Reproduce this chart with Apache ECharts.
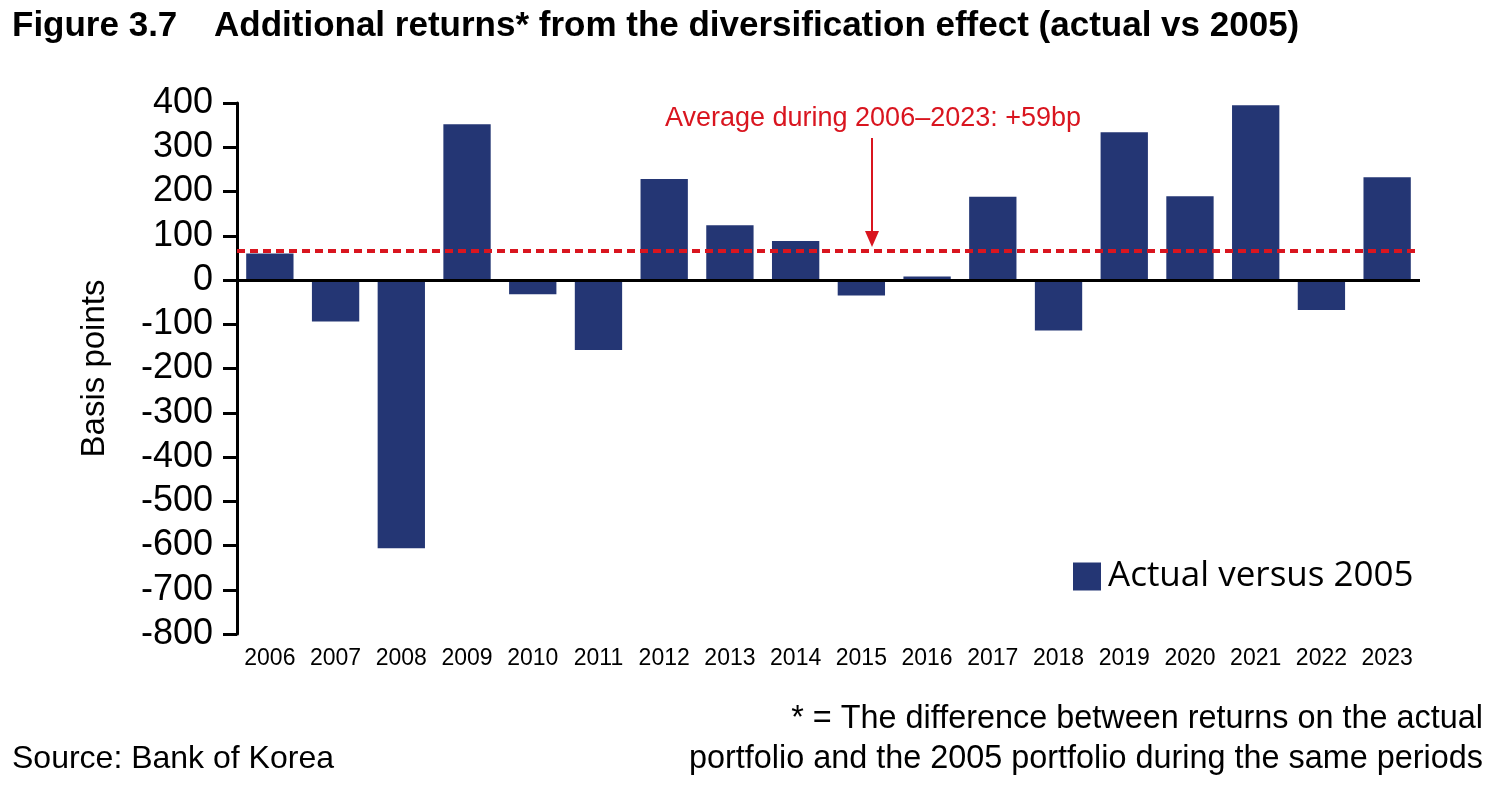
<!DOCTYPE html>
<html>
<head>
<meta charset="utf-8">
<script src="https://cdn.jsdelivr.net/npm/echarts@6/dist/echarts.min.js"></script>
<style>
html,body{margin:0;padding:0;background:#fff;}
#chart{width:1500px;height:810px;}
</style>
</head>
<body>
<div id="chart"></div>
<script>
const categories = ['2006','2007','2008','2009','2010','2011','2012','2013','2014','2015','2016','2017','2018','2019','2020','2021','2022','2023'];
const actualVs2005 = [60, -94, -606, 352, -32, -158, 228, 124, 88, -35, 8, 188, -114, 334, 189, 395, -68, 232];
const averageLevel = 67;
const yTicks = {min: -800, max: 400, interval: 100};
const seriesName = 'Actual versus 2005';
const titleLabel = 'Figure 3.7';
const titleText = 'Additional returns* from the diversification effect (actual vs 2005)';
const annotationText = 'Average during 2006\u20132023: +59bp';
const sourceText = 'Source: Bank of Korea';
const noteLines = ['* = The difference between returns on the actual', 'portfolio and the 2005 portfolio during the same periods'];

const RED = '#d9151f';
const NAVY = '#243674';
const FONT = '"Liberation Sans", Arial, Helvetica, sans-serif';

const chart = echarts.init(document.getElementById('chart'), null, {renderer: 'canvas'});
chart.setOption({
  backgroundColor: '#ffffff',
  animation: false,
  textStyle: {fontFamily: FONT},
  grid: {left: 237, right: 80, top: 103, bottom: 176, containLabel: false},
  legend: {
    data: [seriesName],
    left: 1068, top: 554,
    icon: 'rect', itemWidth: 28, itemHeight: 28,
    textStyle: {fontFamily: '"Open Sans", sans-serif', fontSize: 35, color: '#000', padding: [0, 0, 0, 2]}
  },
  xAxis: {
    type: 'category',
    data: categories,
    boundaryGap: true,
    axisLine: {show: false, onZero: false},
    axisTick: {show: false},
    axisLabel: {fontSize: 23, color: '#000', margin: 13, interval: 0, fontFamily: FONT},
    splitLine: {show: false}
  },
  yAxis: {
    type: 'value',
    min: yTicks.min, max: yTicks.max, interval: yTicks.interval,
    name: 'Basis points',
    nameLocation: 'middle',
    nameGap: 126,
    nameTextStyle: {fontSize: 33, color: '#000', fontFamily: FONT},
    axisLine: {show: true, lineStyle: {color: '#000', width: 3}},
    axisTick: {show: true, inside: false, length: 14, lineStyle: {color: '#000', width: 3}},
    axisLabel: {fontSize: 36, color: '#000', margin: 24, fontFamily: FONT},
    splitLine: {show: false}
  },
  series: [{
    name: seriesName,
    type: 'bar',
    data: actualVs2005,
    barWidth: '72%',
    itemStyle: {color: NAVY},
    markLine: {
      silent: true,
      symbol: 'none',
      label: {show: false},
      data: [
        {yAxis: 0, lineStyle: {color: '#000', width: 3, type: 'solid'}},
        {yAxis: averageLevel, lineStyle: {color: RED, width: 4, type: [8, 5]}}
      ]
    },
    z: 2
  }],
  graphic: [
    {type: 'text', left: 12, top: 9, style: {text: titleLabel, font: 'bold 35px ' + FONT, fill: '#000'}},
    {type: 'text', left: 214, top: 9, style: {text: titleText, font: 'bold 35px ' + FONT, fill: '#000'}},
    {type: 'text', x: 873, y: 119, style: {text: annotationText, font: '27px ' + FONT, fill: RED, align: 'center', verticalAlign: 'middle'}},
    {type: 'line', shape: {x1: 872, y1: 138, x2: 872, y2: 236}, style: {stroke: RED, lineWidth: 2}},
    {type: 'polygon', shape: {points: [[865, 231], [879, 231], [872, 247]]}, style: {fill: RED}},
    {type: 'text', left: 12, top: 743, style: {text: sourceText, font: '32px ' + FONT, fill: '#000'}},
    {type: 'text', right: 17, top: 703, style: {text: noteLines[0], font: '32.4px ' + FONT, fill: '#000', align: 'right'}},
    {type: 'text', right: 17, top: 743, style: {text: noteLines[1], font: '32.4px ' + FONT, fill: '#000', align: 'right'}}
  ]
});
</script>
</body>
</html>
